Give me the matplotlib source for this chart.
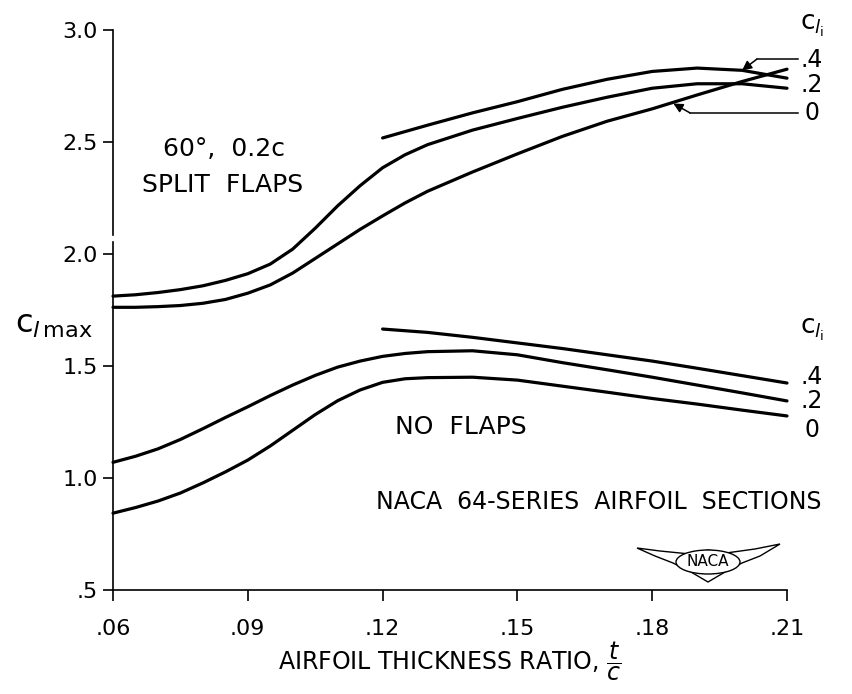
import numpy as np
import matplotlib
matplotlib.use("Agg")
import matplotlib.pyplot as plt
from matplotlib.patches import Polygon, Ellipse

# airfoil thickness ratio t/c
tc_full = [0.06, 0.065, 0.07, 0.075, 0.08, 0.085, 0.09, 0.095, 0.10, 0.105, 0.11,
           0.115, 0.12, 0.125, 0.13, 0.14, 0.15, 0.16, 0.17, 0.18, 0.19, 0.20, 0.21]
tc_part = [0.12, 0.13, 0.14, 0.15, 0.16, 0.17, 0.18, 0.19, 0.20, 0.21]

# 60 deg, 0.2c split flaps
flap_cli0 = [1.762, 1.762, 1.765, 1.77, 1.78, 1.797, 1.825, 1.862, 1.915, 1.98, 2.045,
             2.11, 2.17, 2.228, 2.28, 2.366, 2.447, 2.525, 2.593, 2.648, 2.71, 2.77, 2.825]
flap_cli2 = [1.812, 1.818, 1.828, 1.841, 1.858, 1.882, 1.912, 1.955, 2.022, 2.115, 2.215,
             2.305, 2.385, 2.443, 2.488, 2.553, 2.605, 2.655, 2.70, 2.74, 2.76, 2.76, 2.74]
flap_cli4 = [2.518, 2.575, 2.63, 2.68, 2.735, 2.78, 2.815, 2.83, 2.82, 2.785]

# no flaps
plain_cli0 = [0.843, 0.868, 0.897, 0.933, 0.978, 1.027, 1.08, 1.143, 1.213, 1.283, 1.345,
              1.393, 1.427, 1.443, 1.448, 1.45, 1.437, 1.41, 1.383, 1.355, 1.33, 1.303, 1.277]
plain_cli2 = [1.07, 1.097, 1.13, 1.172, 1.22, 1.27, 1.318, 1.368, 1.415, 1.458, 1.495,
              1.522, 1.543, 1.556, 1.564, 1.568, 1.55, 1.515, 1.483, 1.45, 1.415, 1.38, 1.344]
plain_cli4 = [1.665, 1.65, 1.628, 1.603, 1.578, 1.55, 1.522, 1.49, 1.457, 1.424]

x_ticks = [0.06, 0.09, 0.12, 0.15, 0.18, 0.21]
x_labels = [".06", ".09", ".12", ".15", ".18", ".21"]
y_ticks = [0.5, 1.0, 1.5, 2.0, 2.5, 3.0]
y_labels = [".5", "1.0", "1.5", "2.0", "2.5", "3.0"]

cli_labels = [".4", ".2", "0"]
flap_label_y = [2.866, 2.754, 2.63]
plain_label_y = [1.451, 1.344, 1.214]

W, H = 852, 694
fig = plt.figure(figsize=(W / 100, H / 100), dpi=100)
ax = fig.add_axes([113 / W, 104 / H, 674 / W, 560 / H])
ax.set_xlim(0.06, 0.21)
ax.set_ylim(0.5, 3.0)

lw = 2.3
for xs, ys in [(tc_full, flap_cli0), (tc_full, flap_cli2), (tc_part, flap_cli4),
               (tc_full, plain_cli0), (tc_full, plain_cli2), (tc_part, plain_cli4)]:
    ax.plot(xs, ys, color="black", lw=lw, solid_capstyle="round",
            solid_joinstyle="round", clip_on=False)

# axes
for s in ["top", "right"]:
    ax.spines[s].set_visible(False)
ax.spines["left"].set_bounds(0.5, 2.054)
ax.spines["left"].set_linewidth(1.2)
ax.spines["bottom"].set_linewidth(1.2)
ax.plot([0.06, 0.06], [2.085, 3.0], color="black", lw=1.2, clip_on=False)

ax.set_xticks(x_ticks)
ax.set_xticklabels(x_labels)
ax.set_yticks(y_ticks)
ax.set_yticklabels(y_labels)
ax.tick_params(axis="x", direction="out", length=8, width=1.2, labelsize=16, pad=13)
ax.tick_params(axis="y", direction="out", length=7, width=1.2, labelsize=16, pad=4)

ax.set_xlabel(r"AIRFOIL THICKNESS RATIO, $\dfrac{t}{c}$", fontsize=17, labelpad=0)
fig.text(15 / W, 1 - 325 / H, r"$\mathrm{c}_{l\,\mathrm{max}}$", fontsize=23,
         va="center", ha="left")

# right-hand c_li labels
x_lab = 0.2155
ax.text(0.2155, 3.02, r"$\mathrm{c}_{l_\mathrm{i}}$", fontsize=19, ha="center", va="center")
ax.text(0.2155, 1.66, r"$\mathrm{c}_{l_\mathrm{i}}$", fontsize=19, ha="center", va="center")
for lab, y1, y2 in zip(cli_labels, flap_label_y, plain_label_y):
    ax.text(x_lab, y1, lab, fontsize=17, ha="center", va="center")
    ax.text(x_lab, y2, lab, fontsize=17, ha="center", va="center")

# leader arrows to the .4 and 0 flap curves
ax.plot([0.2125, 0.2033], [2.87, 2.87], color="black", lw=1.1, clip_on=False)
ax.annotate("", xy=(0.2000, flap_cli4[8]), xytext=(0.2033, 2.87),
            arrowprops=dict(arrowstyle="-|>", color="black", lw=1.1,
                            mutation_scale=14, shrinkA=0, shrinkB=0))
ax.plot([0.2125, 0.1884], [2.63, 2.63], color="black", lw=1.1, clip_on=False)
ax.annotate("", xy=(0.1847, 2.672), xytext=(0.1884, 2.63),
            arrowprops=dict(arrowstyle="-|>", color="black", lw=1.1,
                            mutation_scale=14, shrinkA=0, shrinkB=0))

ax.text(0.0848, 2.47, "60°,  0.2c", fontsize=18, ha="center", va="center")
ax.text(0.0843, 2.31, "SPLIT  FLAPS", fontsize=18, ha="center", va="center")
ax.text(0.1373, 1.227, "NO  FLAPS", fontsize=18, ha="center", va="center")
ax.text(0.168, 0.893, "NACA  64-SERIES  AIRFOIL  SECTIONS", fontsize=17,
        ha="center", va="center")

# NACA wing emblem (pixel coords -> figure fraction)
wing_px = [(637, 548), (660, 551), (690, 554), (708, 550), (726, 553), (755, 549),
           (780, 544), (760, 556), (742, 563), (725, 572), (708, 582), (691, 572),
           (673, 563), (655, 556)]
wing = Polygon([(px / W, 1 - py / H) for px, py in wing_px], closed=True,
               transform=fig.transFigure, facecolor="white", edgecolor="black", lw=1.0)
fig.patches.append(wing)
oval = Ellipse((708 / W, 1 - 562 / H), 64 / W, 24 / H, transform=fig.transFigure,
               facecolor="white", edgecolor="black", lw=1.0)
fig.patches.append(oval)
fig.text(708 / W, 1 - 562 / H, "NACA", fontsize=11, ha="center", va="center")

fig.savefig("out.png", dpi=100)
